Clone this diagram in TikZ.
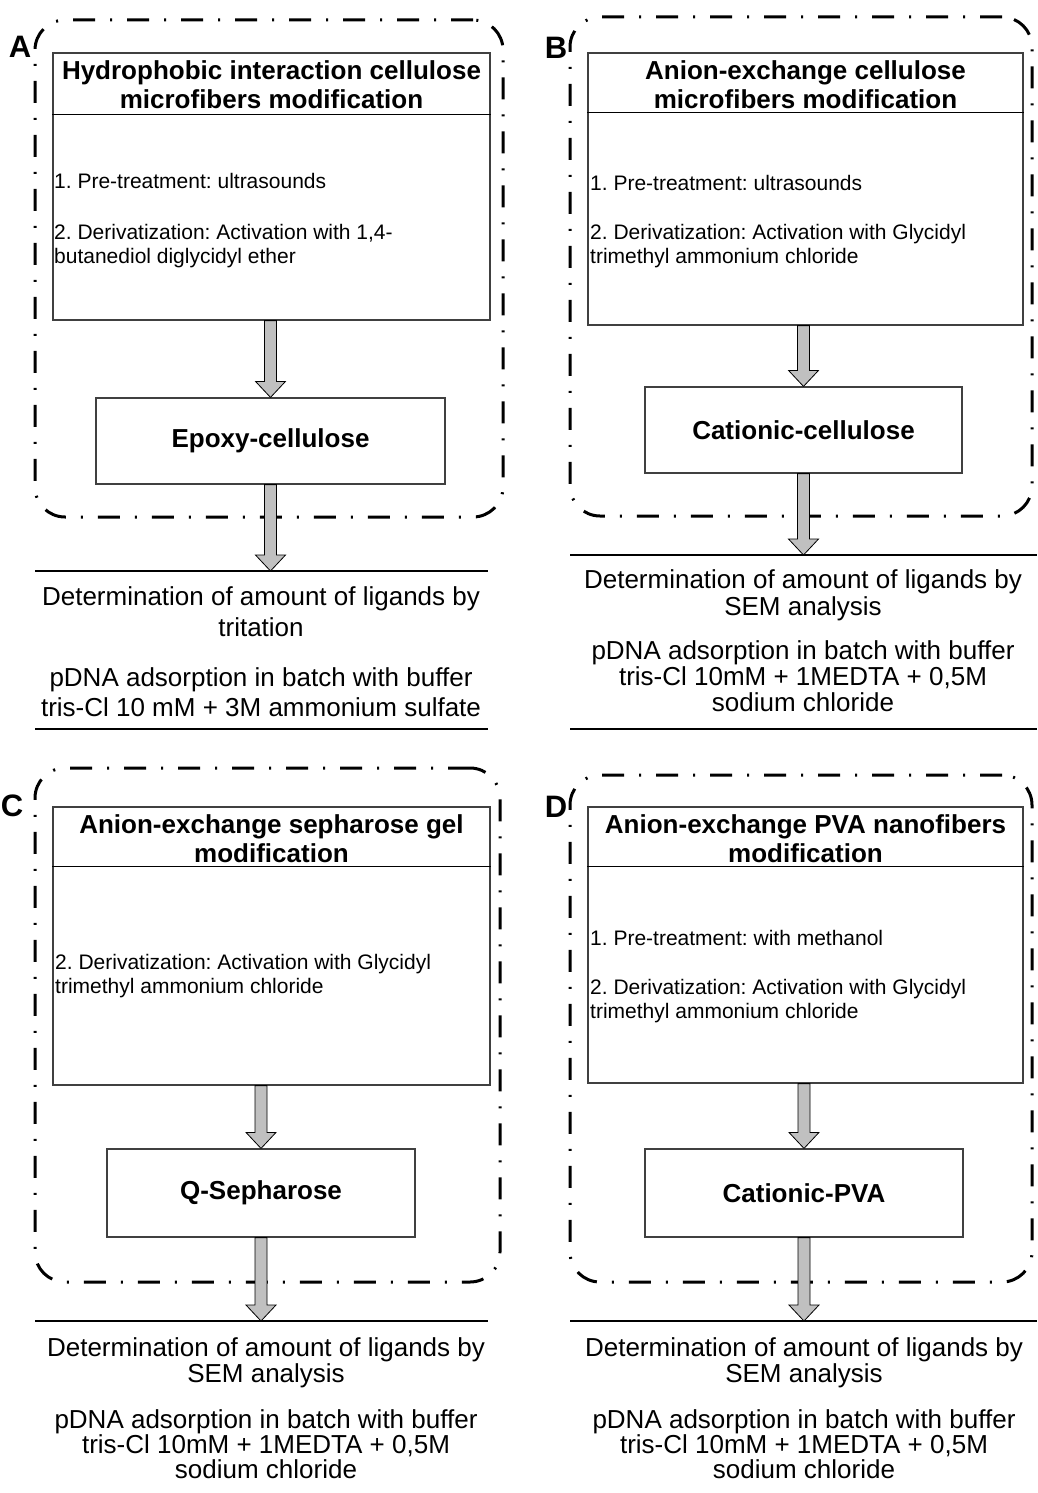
\documentclass[tikz,border=0pt]{standalone}
\usepackage{fontspec}
\setmainfont{Liberation Sans}
\usetikzlibrary{calc}
\frenchspacing
\definecolor{arrowgray}{RGB}{192,192,192}
\definecolor{boxgray}{RGB}{64,64,64}
\tikzset{
 boxnode/.style={draw=boxgray, line width=1.2pt, inner sep=0pt},
 sepline/.style={draw=black, line width=1.2pt},
 grouprect/.style={draw=black, line width=3pt, rounded corners=30pt, dash pattern=on 22pt off 15pt on 2pt off 15pt, inner sep=0pt},
 fatarr/.style={fill=arrowgray, draw=black, line width=0.8pt, line join=miter},
 headtxt/.style={font=\bfseries\fontsize{26}{29}\selectfont, align=center, inner sep=0pt},
 midtxt/.style={font=\bfseries\fontsize{26}{30}\selectfont, inner sep=0pt},
 smalltxt/.style={font=\fontsize{21}{24}\selectfont, align=left, anchor=west, inner sep=0pt},
 bodytxt/.style={align=center, inner sep=0pt},
 lbltxt/.style={font=\bfseries\fontsize{31}{31}\selectfont, inner sep=0pt},
 rule/.style={draw=black, line width=1.2pt},
}
\newcommand{\fatarrow}[2]{\draw[fatarr] ($(#1)+(-6,0)$) -- ($(#1)+(6,0)$) -- ($(#2)+(6,-16)$) -- ($(#2)+(15,-16)$) -- (#2) -- ($(#2)+(-15,-16)$) -- ($(#2)+(-6,-16)$) -- cycle;}
\begin{document}
\begin{tikzpicture}[x=1pt,y=-1pt]
\useasboundingbox[fill=white] (0,0) rectangle (1037,1493);

% ---------- group frames ----------
\node[grouprect, minimum width=468pt, minimum height=497pt] (Agrp) at (269,268.5) {};
\node[grouprect, minimum width=462pt, minimum height=499pt] (Bgrp) at (801,266.5) {};
\node[grouprect, minimum width=465pt, minimum height=514pt] (Cgrp) at (267.5,1025) {};
\node[grouprect, minimum width=462pt, minimum height=507pt] (Dgrp) at (801,1028.5) {};

% ---------- labels ----------
\node[lbltxt] (Albl) at (20,47) {A};
\node[lbltxt] (Blbl) at (556,48) {B};
\node[lbltxt] (Clbl) at (12,806) {C};
\node[lbltxt] (Dlbl) at (556,807) {D};

% ---------- top boxes ----------
\node[boxnode, minimum width=437pt, minimum height=267pt] (Atop) at (271.5,186.5) {};
\draw[sepline] ($(Atop.north west)+(0,62)$) -- ($(Atop.north east)+(0,62)$);
\node[boxnode, minimum width=435pt, minimum height=272pt] (Btop) at (805.5,189) {};
\draw[sepline] ($(Btop.north west)+(0,60)$) -- ($(Btop.north east)+(0,60)$);
\node[boxnode, minimum width=437pt, minimum height=278pt] (Ctop) at (271.5,946) {};
\draw[sepline] ($(Ctop.north west)+(0,60)$) -- ($(Ctop.north east)+(0,60)$);
\node[boxnode, minimum width=435pt, minimum height=276pt] (Dtop) at (805.5,945) {};
\draw[sepline] ($(Dtop.north west)+(0,60)$) -- ($(Dtop.north east)+(0,60)$);

\node[headtxt] (Ahead) at (271.5,85) {Hydrophobic interaction cellulose\\microfibers modification};
\node[headtxt] (Bhead) at (805.5,84.5) {Anion-exchange cellulose\\microfibers modification};
\node[headtxt] (Chead) at (271.5,838.5) {Anion-exchange sepharose gel\\modification};
\node[headtxt] (Dhead) at (805.5,838.5) {Anion-exchange PVA nanofibers\\modification};

\node[smalltxt] (Astep1) at (54,181) {1. Pre-treatment: ultrasounds};
\node[smalltxt] (Astep2) at (54,246) {2. Derivatization: Activation with 1,4-\\butanediol diglycidyl ether};
\node[smalltxt] (Bstep1) at (590,183) {1. Pre-treatment: ultrasounds};
\node[smalltxt] (Bstep2) at (590,246) {2. Derivatization: Activation with Glycidyl\\trimethyl ammonium chloride};
\node[smalltxt] (Cstep2) at (55,976) {2. Derivatization: Activation with Glycidyl\\trimethyl ammonium chloride};
\node[smalltxt] (Dstep1) at (590,938) {1. Pre-treatment: with methanol};
\node[smalltxt] (Dstep2) at (590,1001) {2. Derivatization: Activation with Glycidyl\\trimethyl ammonium chloride};

% ---------- middle boxes ----------
\node[boxnode, midtxt, minimum width=349pt, minimum height=86pt] (Amid) at (270.5,441) {Epoxy-cellulose};
\node[boxnode, midtxt, minimum width=317pt, minimum height=86pt] (Bmid) at (803.5,430) {Cationic-cellulose};
\node[boxnode, midtxt, minimum width=308pt, minimum height=88pt] (Cmid) at (261,1193) {Q-Sepharose};
\node[boxnode, midtxt, minimum width=318pt, minimum height=88pt] (Dmid) at (804,1193) {Cationic-PVA};

% ---------- rules ----------
\coordinate (AL1s) at (35,571);  \coordinate (AL1e) at (488,571);
\coordinate (AL2s) at (35,729);  \coordinate (AL2e) at (488,729);
\coordinate (BL1s) at (570,555); \coordinate (BL1e) at (1037,555);
\coordinate (BL2s) at (570,729); \coordinate (BL2e) at (1037,729);
\coordinate (CL1s) at (35,1321); \coordinate (CL1e) at (488,1321);
\coordinate (DL1s) at (570,1321); \coordinate (DL1e) at (1037,1321);
\draw[rule] (AL1s) -- (AL1e);
\draw[rule] (AL2s) -- (AL2e);
\draw[rule] (BL1s) -- (BL1e);
\draw[rule] (BL2s) -- (BL2e);
\draw[rule] (CL1s) -- (CL1e);
\draw[rule] (DL1s) -- (DL1e);

% ---------- arrows ----------
\coordinate (Aa1) at (Atop.south -| Amid.north);
\coordinate (Ba1) at (Btop.south -| Bmid.north);
\coordinate (Ca1) at (Ctop.south -| Cmid.north);
\coordinate (Da1) at (Dtop.south -| Dmid.north);
\coordinate (Aend) at (Amid.south |- AL1s);
\coordinate (Bend) at (Bmid.south |- BL1s);
\coordinate (Cend) at (Cmid.south |- CL1s);
\coordinate (Dend) at (Dmid.south |- DL1s);
\fatarrow{Aa1}{Amid.north}
\fatarrow{Ba1}{Bmid.north}
\fatarrow{Ca1}{Cmid.north}
\fatarrow{Da1}{Dmid.north}
\fatarrow{Amid.south}{Aend}
\fatarrow{Bmid.south}{Bend}
\fatarrow{Cmid.south}{Cend}
\fatarrow{Dmid.south}{Dend}

% ---------- bottom texts ----------
\node[bodytxt, font=\fontsize{26}{31}\selectfont] (Adet) at (261,611.5) {Determination of amount of ligands by\\tritation};
\node[bodytxt, font=\fontsize{26}{30}\selectfont] (Aads) at (261,692) {pDNA adsorption in batch with buffer\\tris-Cl 10 mM + 3M ammonium sulfate};
\node[bodytxt, font=\fontsize{26}{27}\selectfont] (Bdet) at (803,595.5) {Determination of amount of ligands by\\SEM analysis};
\node[bodytxt, font=\fontsize{26}{26}\selectfont] (Bads) at (803,676) {pDNA adsorption in batch with buffer\\tris-Cl 10mM + 1MEDTA + 0,5M\\sodium chloride};
\node[bodytxt, font=\fontsize{26}{26}\selectfont] (Cdet) at (266,1363) {Determination of amount of ligands by\\SEM analysis};
\node[bodytxt, font=\fontsize{26}{25}\selectfont] (Cads) at (266,1444.5) {pDNA adsorption in batch with buffer\\tris-Cl 10mM + 1MEDTA + 0,5M\\sodium chloride};
\node[bodytxt, font=\fontsize{26}{26}\selectfont] (Ddet) at (804,1363) {Determination of amount of ligands by\\SEM analysis};
\node[bodytxt, font=\fontsize{26}{25}\selectfont] (Dads) at (804,1444.5) {pDNA adsorption in batch with buffer\\tris-Cl 10mM + 1MEDTA + 0,5M\\sodium chloride};
\end{tikzpicture}
\end{document}
